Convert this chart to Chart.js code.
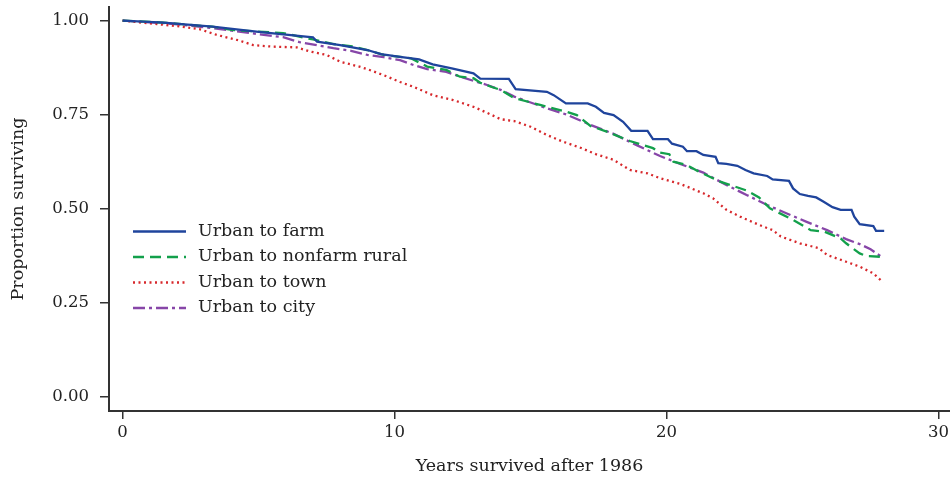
<!DOCTYPE html>
<html><head><meta charset="utf-8">
<script src="https://cdn.jsdelivr.net/npm/chart.js@4.4.1/dist/chart.umd.min.js"></script>
<style>html,body{margin:0;padding:0;background:#fff}</style>
</head><body>
<canvas id="c" width="950" height="477"></canvas>
<script>
const seriesNames = ["Urban to farm", "Urban to nonfarm rural", "Urban to town", "Urban to city"];

const farmT = [0, 1.5, 3.3, 5.0, 7.0, 7.15, 8.0, 9.0, 9.5, 10.2, 10.9, 11.4, 12.1, 12.9, 13.15, 14.2, 14.45, 15.6, 15.85, 16.3, 17.1, 17.4, 17.7, 18.05, 18.4, 18.7, 19.3, 19.5, 20.05, 20.2, 20.6, 20.75, 21.1, 21.35, 21.8, 21.9, 22.2, 22.6, 22.9, 23.2, 23.7, 23.9, 24.5, 24.65, 24.9, 25.2, 25.5, 25.76, 26.1, 26.4, 26.8, 26.9, 27.1, 27.6, 27.7, 28.0];
const farmS = [1.0, 0.995, 0.984, 0.970, 0.956, 0.944, 0.935, 0.922, 0.911, 0.904, 0.897, 0.884, 0.873, 0.860, 0.846, 0.845, 0.818, 0.811, 0.802, 0.780, 0.780, 0.771, 0.755, 0.749, 0.731, 0.707, 0.707, 0.685, 0.685, 0.673, 0.665, 0.653, 0.653, 0.643, 0.638, 0.621, 0.619, 0.614, 0.603, 0.594, 0.587, 0.578, 0.574, 0.554, 0.539, 0.534, 0.530, 0.519, 0.504, 0.497, 0.497, 0.479, 0.459, 0.454, 0.441, 0.441];

const ruralT = [0, 1.5, 3.3, 4.07, 5.9, 7.0, 7.75, 8.5, 9.0, 9.6, 10.6, 11.2, 11.9, 12.4, 12.9, 13.15, 13.6, 13.9, 14.4, 15.35, 16.3, 16.7, 17.2, 17.8, 18.65, 19.5, 19.76, 20.1, 20.25, 20.75, 21.2, 21.97, 22.96, 23.4, 23.8, 24.65, 25.3, 25.8, 26.4, 26.6, 27.1, 27.35, 27.9];
const ruralS = [1.0, 0.995, 0.984, 0.975, 0.967, 0.950, 0.938, 0.931, 0.922, 0.909, 0.900, 0.878, 0.869, 0.851, 0.847, 0.835, 0.823, 0.816, 0.794, 0.776, 0.758, 0.749, 0.720, 0.705, 0.680, 0.661, 0.649, 0.645, 0.625, 0.616, 0.598, 0.572, 0.548, 0.530, 0.501, 0.470, 0.443, 0.439, 0.421, 0.408, 0.381, 0.374, 0.372];

const townT = [0, 1.26, 2.2, 2.85, 3.47, 4.3, 4.8, 5.5, 6.4, 6.9, 7.5, 8.0, 8.7, 9.0, 9.6, 10.2, 10.7, 11.4, 12.15, 12.9, 13.4, 13.9, 14.4, 15.0, 15.6, 16.2, 16.8, 17.4, 18.05, 18.65, 19.3, 19.76, 20.5, 21.35, 21.7, 22.2, 22.7, 23.4, 23.9, 24.2, 24.9, 25.6, 25.9, 26.6, 27.1, 27.6, 27.96];
const townS = [1.0, 0.991, 0.984, 0.977, 0.962, 0.947, 0.935, 0.931, 0.929, 0.918, 0.909, 0.891, 0.878, 0.871, 0.855, 0.837, 0.824, 0.802, 0.789, 0.771, 0.755, 0.738, 0.733, 0.718, 0.696, 0.678, 0.663, 0.645, 0.630, 0.603, 0.594, 0.581, 0.566, 0.541, 0.528, 0.497, 0.479, 0.457, 0.443, 0.426, 0.408, 0.395, 0.377, 0.359, 0.346, 0.328, 0.304];

const cityT = [0, 1.63, 3.1, 4.7, 5.9, 6.5, 7.15, 7.75, 8.4, 9.0, 9.6, 10.2, 10.7, 11.2, 11.9, 12.3, 12.9, 13.4, 13.9, 14.4, 15.6, 16.3, 17.2, 18.05, 18.9, 19.76, 20.5, 21.35, 22.2, 22.96, 23.7, 24.4, 25.15, 25.9, 26.6, 27.1, 27.5, 27.9];
const cityS = [1.0, 0.993, 0.982, 0.967, 0.956, 0.943, 0.935, 0.927, 0.920, 0.909, 0.903, 0.895, 0.882, 0.871, 0.864, 0.854, 0.840, 0.829, 0.816, 0.798, 0.767, 0.751, 0.723, 0.699, 0.669, 0.640, 0.619, 0.596, 0.563, 0.536, 0.510, 0.488, 0.465, 0.443, 0.419, 0.406, 0.392, 0.372];

const xTicks = [0, 10, 20, 30];
const yTicks = [0, 0.25, 0.5, 0.75, 1.0];
const xTitle = "Years survived after 1986";
const yTitle = "Proportion surviving";

const toXY = (t, s) => t.map((v, i) => ({x: v, y: s[i]}));

const FONT = "'DejaVu Serif', 'Liberation Serif', serif";
Chart.defaults.font.family = FONT;
Chart.defaults.font.size = 16;
Chart.defaults.color = '#222';

const styles = [
  {borderColor: '#1f449c', borderDash: [], borderWidth: 2.3},
  {borderColor: '#13a04b', borderDash: [11, 6], borderWidth: 2.3},
  {borderColor: '#d7282c', borderDash: [2, 3.5], borderWidth: 2.3},
  {borderColor: '#8746a8', borderDash: [12, 4, 3, 4], borderWidth: 2.3}
];
const seriesData = [toXY(farmT, farmS), toXY(ruralT, ruralS), toXY(townT, townS), toXY(cityT, cityS)];

const legendPlugin = {
  id: 'insideLegend',
  afterDraw(chart) {
    const {ctx, chartArea} = chart;
    const x0 = chartArea.left + 24, x1 = chartArea.left + 77, tx = chartArea.left + 89;
    const y0 = chartArea.top + 224.5, dy = 25.5;
    ctx.save();
    ctx.font = "17.5px " + FONT;
    ctx.textBaseline = 'middle';
    ctx.textAlign = 'left';
    chart.data.datasets.forEach((ds, i) => {
      const y = y0 + i * dy;
      ctx.beginPath();
      ctx.setLineDash(ds.borderDash || []);
      ctx.strokeStyle = ds.borderColor;
      ctx.lineWidth = ds.borderWidth;
      ctx.moveTo(x0, y); ctx.lineTo(x1, y);
      ctx.stroke();
      ctx.setLineDash([]);
      ctx.fillStyle = '#222';
      ctx.fillText(ds.label, tx, y - 0.5);
    });
    ctx.restore();
  }
};

new Chart(document.getElementById('c'), {
  type: 'line',
  data: {
    datasets: seriesNames.map((n, i) => Object.assign({
      label: n, data: seriesData[i], fill: false, pointRadius: 0, tension: 0
    }, styles[i]))
  },
  options: {
    responsive: false,
    devicePixelRatio: 1,
    animation: false,
    layout: {padding: {top: 7, left: 0, right: 0, bottom: 0}},
    plugins: {legend: {display: false}, tooltip: {enabled: false}},
    scales: {
      x: {
        type: 'linear', min: -0.5, max: 30.42,
        afterBuildTicks: s => { s.ticks = xTicks.map(v => ({value: v})); },
        afterFit: s => { s.height = 66; s.paddingLeft = 0; s.paddingRight = 0; },
        ticks: {padding: 4, color: '#222', font: {size: 16.5}},
        grid: {drawOnChartArea: false, drawTicks: true, tickLength: 8, color: '#333', lineWidth: 1.5},
        border: {display: true, color: '#333', width: 2},
        title: {display: true, text: xTitle, color: '#222', font: {size: 17.5}, padding: {top: 0, bottom: 0.5}}
      },
      y: {
        type: 'linear', min: -0.038, max: 1.0364,
        afterBuildTicks: s => { s.ticks = yTicks.map(v => ({value: v})); },
        afterFit: s => { s.width = 109; s.paddingTop = 0; s.paddingBottom = 0; },
        ticks: {padding: 11, color: '#222', font: {size: 16.5}, callback: v => Number(v).toFixed(2)},
        grid: {drawOnChartArea: false, drawTicks: true, tickLength: 9, color: '#333', lineWidth: 1.5},
        border: {display: true, color: '#333', width: 2},
        title: {display: true, text: yTitle, color: '#222', font: {size: 17.5}, padding: {top: 7.5, bottom: 0}}
      }
    }
  },
  plugins: [legendPlugin]
});
</script>
</body></html>
